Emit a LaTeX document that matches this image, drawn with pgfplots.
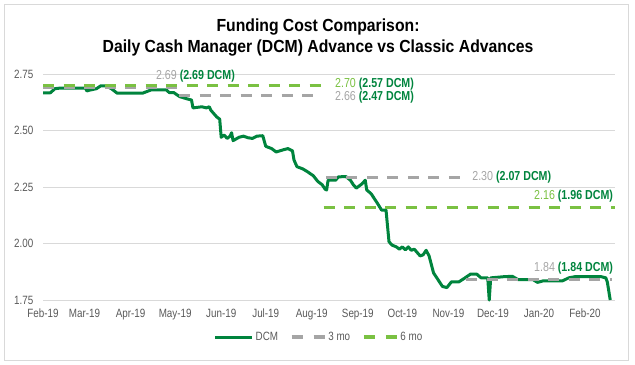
\documentclass[border=0pt]{standalone}
\usepackage{fontspec}
\setmainfont[FakeStretch=0.82]{Liberation Sans}
\newfontfamily\titlefont[FakeStretch=0.9]{Liberation Sans}
\usepackage{pgfplots}
\pgfplotsset{compat=1.18}
\definecolor{dcm}{HTML}{00843D}
\definecolor{threemo}{HTML}{A5A5A5}
\definecolor{sixmo}{HTML}{7AC142}
\definecolor{ticktext}{HTML}{595959}
\definecolor{gridc}{HTML}{D9D9D9}
\pgfplotsset{
  lineleg/.style={legend image code/.code={\draw[##1] (0bp,0bp) -- (37bp,0bp);}},
  dashleg/.style={legend image code/.code={\draw[##1, dash pattern=on 11bp off 11bp] (0bp,0bp) -- (33bp,0bp);}},
}
\pgfplotstableread{
d v
0 2.667
5 2.667
8 2.685
12 2.688
20 2.688
28.5 2.688
29.5 2.675
31 2.678
36 2.685
39 2.698
42 2.698
46 2.685
50 2.665
67 2.665
73 2.68
83 2.68
85 2.668
88 2.668
92 2.65
97 2.64
100 2.635
101 2.60
107 2.605
110 2.60
112 2.605
113 2.59
117 2.56
119 2.55
120 2.47
122 2.48
124 2.465
126 2.475
127 2.49
128 2.455
132 2.47
135 2.475
138 2.468
141 2.465
144 2.475
148 2.477
150 2.43
154 2.42
157 2.405
162 2.415
165 2.42
168 2.41
169 2.37
171 2.34
175 2.33
178 2.318
182 2.30
185 2.275
188 2.26
190 2.24
191 2.237
192 2.28
197 2.28
199 2.295
204 2.296
207 2.28
209 2.26
211 2.245
213 2.255
215 2.265
217 2.28
218 2.237
221 2.22
225 2.18
228 2.148
231 2.148
233 2.008
235 1.993
238 1.985
240 1.975
242 1.985
244 1.972
246 1.985
248 1.97
250 1.975
252 1.96
254 1.945
256 1.95
258 1.97
260 1.945
263 1.87
266 1.84
269 1.81
272 1.805
275 1.83
280 1.83
284 1.847
288 1.865
292 1.865
295 1.848
299.5 1.848
300.5 1.75
301.5 1.848
305 1.85
310 1.853
316 1.855
320 1.84
330 1.84
333 1.828
337 1.835
350 1.835
354 1.848
358 1.853
376 1.853
379 1.848
380 1.83
382 1.75
}\dcmdata
\pgfplotstableread{
d v
0 2.69
91.5 2.69
91.6 nan
91.7 2.655
187.5 2.655
187.6 nan
190.5 2.293
283.5 2.293
283.6 nan
285 1.842
383 1.842
}\threedata
\pgfplotstableread{
d v
0 2.70
188 2.70
188.1 nan
189 2.16
385 2.16
}\sixdata
\begin{document}
\begin{tikzpicture}
\path[use as bounding box] (0,0) rectangle (635bp,-365bp);
\draw[gridc, line width=0.75bp] (4bp,-4bp) rectangle (628bp,-360bp);
\node[font=\titlefont\fontsize{17.5bp}{20bp}\selectfont\bfseries, anchor=base, inner sep=0pt] at (318bp,-31bp) {Funding Cost Comparison:};
\node[font=\titlefont\fontsize{17.5bp}{20bp}\selectfont\bfseries, anchor=base, inner sep=0pt] at (318bp,-52bp) {Daily Cash Manager (DCM) Advance vs Classic Advances};
\begin{axis}[
  at={(43bp,-300bp)}, anchor=south west,
  scale only axis, width=572bp, height=226bp,
  xmin=0, xmax=385.2, ymin=1.75, ymax=2.75,
  axis line style={draw=none},
  major tick length=0pt,
  ytick={1.75,2,2.25,2.5,2.75},
  yticklabel style={/pgf/number format/fixed, /pgf/number format/fixed zerofill, /pgf/number format/precision=2},
  xtick={0,28,59,89,120,150,181,212,242,273,303,334,365},
  xticklabels={Feb-19,Mar-19,Apr-19,May-19,Jun-19,Jul-19,Aug-19,Sep-19,Oct-19,Nov-19,Dec-19,Jan-20,Feb-20},
  /pgf/number format/assume math mode=true,
  tick label style={font=\fontsize{12bp}{14bp}\selectfont, text=ticktext},
  xticklabel style={inner sep=0pt, yshift=-9bp},
  yticklabel style={inner sep=0pt, xshift=-9.5bp},
  ymajorgrids, grid style={gridc, line width=0.75bp},
  clip=false,
  unbounded coords=jump,
  legend columns=3,
  legend style={draw=none, fill=none, at={(0.4825,-0.164)}, anchor=center,
    font=\fontsize{12bp}{14bp}\selectfont, text=ticktext,
    /tikz/every even column/.append style={column sep=10bp}},
]
\addplot[dcm, line width=3bp, line join=round, lineleg] table[x=d,y=v] {\dcmdata};
\addlegendentry{DCM}
\addplot[threemo, line width=3.2bp, dash pattern=on 11bp off 9.5bp, dashleg] table[x=d,y=v] {\threedata};
\addlegendentry{3 mo}
\addplot[sixmo, line width=3.2bp, dash pattern=on 11bp off 9.5bp, dashleg] table[x=d,y=v] {\sixdata};
\addlegendentry{6 mo}
\tikzset{lab/.style={inner sep=0pt, font=\fontsize{13bp}{15bp}\selectfont}}
\node[lab, anchor=west] at (axis cs:76,2.742) {\textcolor{threemo}{2.69} \textcolor{dcm}{\bfseries(2.69 DCM)}};
\node[lab, anchor=west] at (axis cs:196.6,2.706) {\textcolor{sixmo}{2.70} \textcolor{dcm}{\bfseries(2.57 DCM)}};
\node[lab, anchor=west] at (axis cs:196.6,2.649) {\textcolor{threemo}{2.66} \textcolor{dcm}{\bfseries(2.47 DCM)}};
\node[lab, anchor=west] at (axis cs:289,2.294) {\textcolor{threemo}{2.30} \textcolor{dcm}{\bfseries(2.07 DCM)}};
\node[lab, anchor=east] at (axis cs:384,2.21) {\textcolor{sixmo}{2.16} \textcolor{dcm}{\bfseries(1.96 DCM)}};
\node[lab, anchor=east] at (axis cs:384,1.89) {\textcolor{threemo}{1.84} \textcolor{dcm}{\bfseries(1.84 DCM)}};
\end{axis}
\end{tikzpicture}
\end{document}
